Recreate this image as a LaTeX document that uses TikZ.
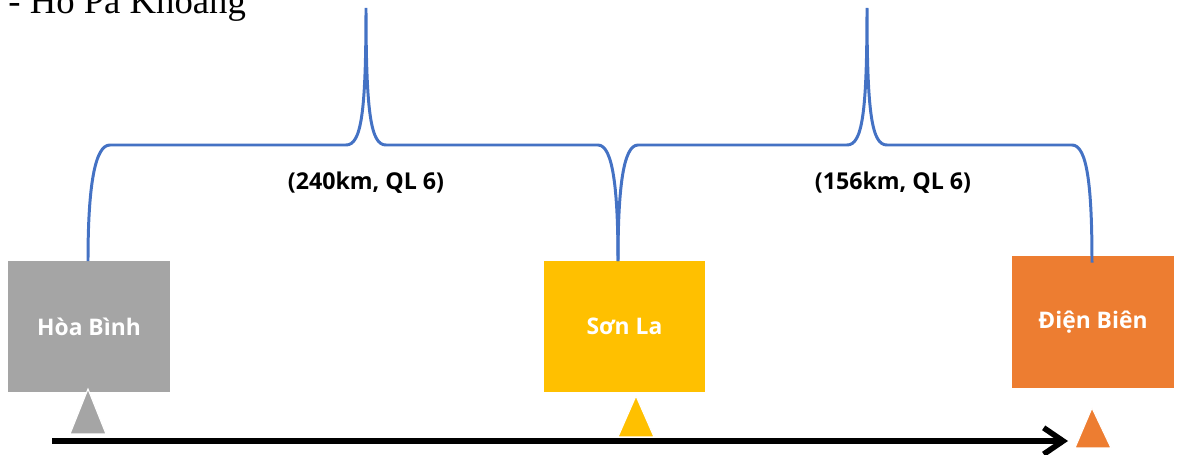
\documentclass[tikz,border=0pt]{standalone}
\usepackage{fontspec}
\setmainfont{Liberation Serif}
\newfontfamily\boxfont{Open Sans}
\definecolor{hbgray}{RGB}{165, 165, 165}
\definecolor{slyellow}{RGB}{255, 192, 0}
\definecolor{dborange}{RGB}{237, 125, 49}
\definecolor{braceblue}{RGB}{68, 114, 196}
\usepackage{tikz}
\usetikzlibrary{arrows.meta, positioning, calc}

\begin{document}
\begin{tikzpicture}[x=0.02cm, y=-0.02cm,
		city/.style={minimum width=3.24cm,minimum height=2.64cm,inner sep=0,text=white,font=\boxfont\bfseries\fontsize{13}{15}\selectfont},
		dist/.style={inner sep=0,font=\boxfont\bfseries\fontsize{13.2}{15}\selectfont},
		brace/.style={draw=braceblue,line width=1.7pt},
		marker/.style={draw=white,line width=0.6pt}]
				\useasboundingbox (0,0) rectangle (1181,455);
				
				\node (title) [anchor=base west,inner sep=0,font=\fontsize{20.9}{24}\selectfont] at (8,14) {- Hồ Pá Khoang};
				
				\node (hb) [city,fill=hbgray]   at (89,326.5)   {Hòa Bình};
				\node (sl) [city,fill=slyellow] at (624.5,326.5) {Sơn La};
				\node (db) [city,fill=dborange] at (1093,322)   {Điện Biên};
				
				\node (d1) [dist] at (366,183) {(240km, QL 6)};
				\node (d2) [dist] at (893,183) {(156km, QL 6)};
				
				% triangles under the boxes
				\fill[fill=hbgray,marker]   (70,434)  -- (88,389)   -- (106,434)  -- cycle;
				\fill[fill=slyellow,marker] (618,437) -- (636,396)  -- (654,437)  -- cycle;
				\fill[fill=dborange,marker] (1075,448) -- (1092,408) -- (1111,448) -- cycle;
				
				% route line
				\coordinate (start) at (52,441);
				\coordinate (end)   at (1068,441);
				\draw[line width=3.2pt,-{Straight Barb[length=11pt,width=15pt,line width=3.2pt]}] (start) -- (end);
				
				% braces
				\coordinate (t1) at (366,8);
				\coordinate (t2) at (867,8);
				\coordinate (m)  at ($(sl.north)+(-6.5,1)$);
				\draw[brace] ($(hb.north)+(-1,1)$) .. controls (88,185) and (95,145) .. (110,145) -- (346,145)
					.. controls (361,145) and (366,115) .. (t1)
					.. controls (366,115) and (371,145) .. (386,145) -- (598,145)
					.. controls (613,145) and (618,190) .. (m);
				\draw[brace] (m) .. controls (618,190) and (623,145) .. (638,145) -- (847,145)
					.. controls (862,145) and (867,115) .. (t2)
					.. controls (867,115) and (872,145) .. (887,145) -- (1072,145)
					.. controls (1087,145) and (1092,185) .. ($(db.north)+(-1,7)$);
			\end{tikzpicture}
\end{document}
